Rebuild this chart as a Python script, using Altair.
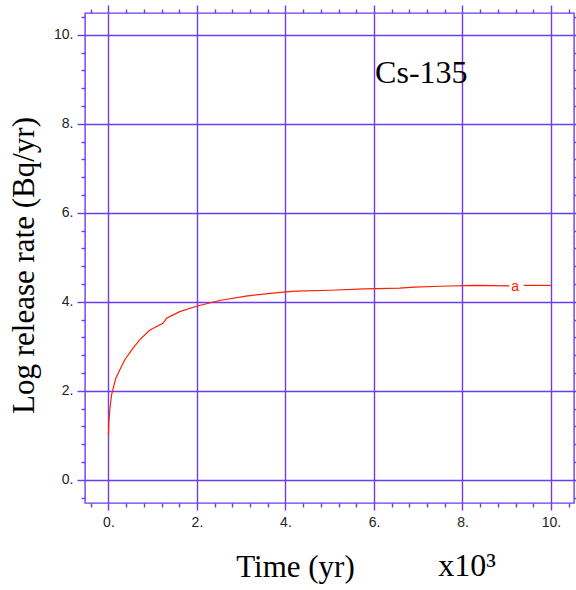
import altair as alt
import pandas as pd

# Release-rate curve (log10 Bq/yr) against time in thousands of years.
# The curve is split in two pieces so the "a" label sits in a gap.
seg1_time = [0.0, 0.01, 0.03, 0.07, 0.10, 0.165, 0.255, 0.37, 0.555, 0.71,
             0.93, 1.23, 1.28, 1.31, 1.61, 1.99, 2.51, 3.11, 3.94, 4.24,
             5.0, 5.8, 6.58, 6.91, 7.5, 8.27, 9.06]
seg1_rate = [1.01, 1.31, 1.57, 1.91, 2.02, 2.28, 2.47, 2.70, 2.96, 3.15,
             3.36, 3.52, 3.58, 3.63, 3.78, 3.90, 4.03, 4.13, 4.22, 4.24,
             4.26, 4.29, 4.31, 4.33, 4.35, 4.37, 4.36]
seg2_time = [9.38, 10.0]
seg2_rate = [4.37, 4.37]

curve_label = "a"
curve_label_pos = (9.19, 4.34)
nuclide = "Cs-135"
nuclide_pos = (7.07, 8.92)
x_multiplier = "x10³"
x_multiplier_pos = (7.45, -2.16)

x_major = [0, 2, 4, 6, 8, 10]
y_major = [0, 2, 4, 6, 8, 10]
x_domain = [-0.53, 10.52]
y_domain = [-0.52, 10.49]

minor_step = 0.4
x_minor = [round(-0.4 + minor_step * i, 2) for i in range(28)]
x_minor = [v for v in x_minor if abs(v - round(v / 2) * 2) > 1e-6]
y_minor = list(x_minor)

curve = pd.DataFrame({
    "time": seg1_time + seg2_time,
    "rate": seg1_rate + seg2_rate,
    "seg": [1] * len(seg1_time) + [2] * len(seg2_time),
})

PURPLE = "#6b3cf0"
RED = "#ff1e00"
SERIF = "Liberation Serif"
SANS = "Liberation Sans"

xs = alt.Scale(domain=x_domain, nice=False, zero=False)
ys = alt.Scale(domain=y_domain, nice=False, zero=False)

label_expr = "format(datum.value, 'd') + '.'"


def x_axis(orient, values, size, labels=False, grid=False, title=None, **kw):
    opts = dict(orient=orient, values=values, tickSize=size, tickColor=PURPLE,
                tickWidth=1.4, domain=False, grid=grid, labels=labels)
    if grid:
        opts.update(gridColor=PURPLE, gridWidth=1.4, gridOpacity=1)
    if labels:
        opts.update(labelExpr=label_expr, labelFont=SANS, labelFontSize=14,
                    labelColor="#222222", labelPadding=5, labelBaseline="top")
    if title:
        opts.update(title=title, titleFont=SERIF, titleFontSize=31,
                    titleFontWeight="normal", titleColor="black", **kw)
    else:
        opts.update(title=None)
    return alt.Axis(**opts)


def y_axis(orient, values, size, labels=False, grid=False, title=None, **kw):
    opts = dict(orient=orient, values=values, tickSize=size, tickColor=PURPLE,
                tickWidth=1.4, domain=False, grid=grid, labels=labels)
    if grid:
        opts.update(gridColor=PURPLE, gridWidth=1.4, gridOpacity=1)
    if labels:
        opts.update(labelExpr=label_expr, labelFont=SANS, labelFontSize=14,
                    labelColor="#222222", labelPadding=4)
    if title:
        opts.update(title=title, titleFont=SERIF, titleFontSize=31,
                    titleFontWeight="normal", titleColor="black", **kw)
    else:
        opts.update(title=None)
    return alt.Axis(**opts)


base = alt.Chart(curve)

line = base.mark_line(color=RED, strokeWidth=1.2).encode(
    x=alt.X("time:Q", scale=xs,
            axis=x_axis("bottom", x_major, 7, labels=True, grid=True,
                        title="Time (yr)", titleX=210, titleY=73,
                        titleAlign="center", titleBaseline="alphabetic")),
    y=alt.Y("rate:Q", scale=ys,
            axis=y_axis("left", y_major, 8, labels=True, grid=True,
                        title="Log release rate (Bq/yr)", titleAngle=270,
                        titleX=-52, titleY=252, titleAlign="center",
                        titleBaseline="alphabetic")),
    detail="seg:N",
)

minor_bl = base.mark_line(opacity=0).encode(
    x=alt.X("time:Q", scale=xs, axis=x_axis("bottom", x_minor, 4)),
    y=alt.Y("rate:Q", scale=ys, axis=y_axis("left", y_minor, 4)),
    detail="seg:N",
)

major_tr = base.mark_line(opacity=0).encode(
    x=alt.X("time:Q", scale=xs, axis=x_axis("top", x_major, 8)),
    y=alt.Y("rate:Q", scale=ys, axis=y_axis("right", y_major, 8)),
    detail="seg:N",
)

minor_tr = base.mark_line(opacity=0).encode(
    x=alt.X("time:Q", scale=xs, axis=x_axis("top", x_minor, 4)),
    y=alt.Y("rate:Q", scale=ys, axis=y_axis("right", y_minor, 4)),
    detail="seg:N",
)

texts = pd.DataFrame({
    "x": [curve_label_pos[0], nuclide_pos[0], x_multiplier_pos[0]],
    "y": [curve_label_pos[1], nuclide_pos[1], x_multiplier_pos[1]],
    "t": [curve_label, nuclide, x_multiplier],
})

a_label = alt.Chart(texts.iloc[[0]]).mark_text(
    color=RED, font=SANS, fontSize=14, align="center", baseline="middle"
).encode(x=alt.X("x:Q", scale=xs, axis=None),
         y=alt.Y("y:Q", scale=ys, axis=None), text="t:N")

nuclide_label = alt.Chart(texts.iloc[[1]]).mark_text(
    color="black", font=SERIF, fontSize=32, align="center", baseline="alphabetic"
).encode(x=alt.X("x:Q", scale=xs, axis=None),
         y=alt.Y("y:Q", scale=ys, axis=None), text="t:N")

mult_label = alt.Chart(texts.iloc[[2]]).mark_text(
    color="black", font=SERIF, fontSize=32, align="left", baseline="alphabetic"
).encode(x=alt.X("x:Q", scale=xs, axis=None),
         y=alt.Y("y:Q", scale=ys, axis=None), text="t:N")

chart = alt.layer(
    line, minor_bl, major_tr, minor_tr, a_label, nuclide_label, mult_label
).resolve_axis(
    x="independent", y="independent"
).properties(
    width=489, height=490,
    autosize=alt.AutoSizeParams(type="none"),
    padding={"left": 85, "top": 13, "right": 2, "bottom": 87},
    background="white",
).configure_view(
    stroke=PURPLE, strokeWidth=1.4
)

chart.save("out.html", embed_options={"renderer": "svg", "actions": False})
